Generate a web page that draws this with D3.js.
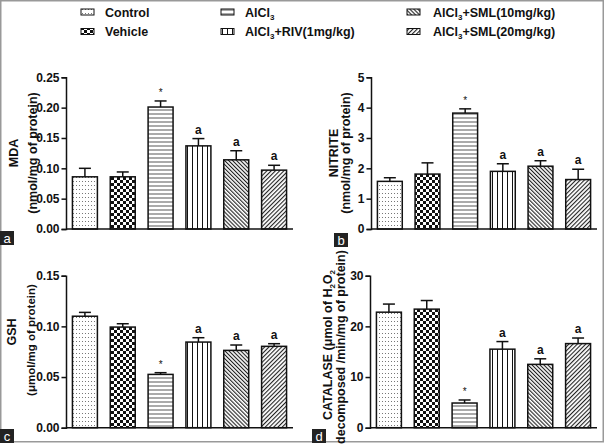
<!DOCTYPE html>
<html>
<head>
<meta charset="utf-8">
<script src="https://cdn.jsdelivr.net/npm/d3@7"></script>
<style>
  body { margin: 0; background: #fff; }
  svg { display: block; font-family: "Liberation Sans", Arial, sans-serif; }
</style>
</head>
<body>
<svg id="chart" width="605" height="444"></svg>
<script>
// data
const groups = ["Control", "Vehicle", "AlCl3", "AlCl3+RIV(1mg/kg)", "AlCl3+SML(10mg/kg)", "AlCl3+SML(20mg/kg)"];
const patterns = ["dots", "check", "hlines", "vlines", "diagR", "diagL"];
const marks = ["", "", "*", "a", "a", "a"];

const mdaMean = [0.086, 0.086, 0.201, 0.137, 0.114, 0.097];
const mdaErr = [0.014, 0.008, 0.010, 0.012, 0.015, 0.008];
const mdaTicks = [0, 0.05, 0.10, 0.15, 0.20, 0.25];

const nitMean = [1.57, 1.81, 3.82, 1.90, 2.07, 1.63];
const nitErr = [0.12, 0.37, 0.14, 0.25, 0.18, 0.34];
const nitTicks = [0, 1, 2, 3, 4, 5];

const gshMean = [0.110, 0.0993, 0.0526, 0.0845, 0.0763, 0.0803];
const gshErr = [0.0038, 0.0033, 0.0017, 0.0043, 0.0053, 0.0026];
const gshTicks = [0, 0.05, 0.10, 0.15];

const catMean = [22.8, 23.4, 4.87, 15.5, 12.5, 16.6];
const catErr = [1.6, 1.7, 0.6, 1.5, 1.1, 1.1];
const catTicks = [0, 10, 20, 30];

const svg = d3.select("#chart");
const defs = svg.append("defs");

// fill patterns
function pattern(id, w, h, draw, transform) {
  const p = defs.append("pattern")
    .attr("id", id)
    .attr("patternUnits", "userSpaceOnUse")
    .attr("width", w).attr("height", h);
  if (transform) p.attr("patternTransform", transform);
  p.append("rect").attr("width", w).attr("height", h).attr("fill", "#fff");
  draw(p);
}
pattern("dots", 3, 4, p => p.append("rect").attr("x", 1).attr("y", 1).attr("width", 1).attr("height", 1).attr("fill", "#777"));
pattern("check", 6, 6, p => {
  p.append("rect").attr("x", 0).attr("y", 0).attr("width", 3).attr("height", 3).attr("fill", "#111");
  p.append("rect").attr("x", 3).attr("y", 3).attr("width", 3).attr("height", 3).attr("fill", "#111");
});
pattern("hlines", 4, 4, p => p.append("rect").attr("x", 0).attr("y", 1.5).attr("width", 4).attr("height", 1).attr("fill", "#555"));
pattern("vlines", 5, 5, p => p.append("rect").attr("x", 2).attr("y", 0).attr("width", 1).attr("height", 5).attr("fill", "#111"));
pattern("diagR", 2.8, 2.8, p => p.append("rect").attr("x", 0).attr("y", 0).attr("width", 1.1).attr("height", 2.8).attr("fill", "#222"), "rotate(-45)");
pattern("diagL", 3, 3, p => p.append("rect").attr("x", 0).attr("y", 0).attr("width", 1.1).attr("height", 3).attr("fill", "#222"), "rotate(45)");

// outer frame
svg.append("rect")
  .attr("x", 0.75).attr("y", 0.75)
  .attr("width", 602.5).attr("height", 441)
  .attr("fill", "none")
  .attr("stroke", "#999")
  .attr("stroke-width", 1.5);

// group names with subscript 3 after AlCl
function writeLabel(sel, name) {
  if (name.startsWith("AlCl3")) {
    sel.append("tspan").text("AlCl");
    sel.append("tspan").attr("font-size", 8).attr("dy", 3).text("3");
    if (name.length > 5) sel.append("tspan").attr("dy", -3).text(name.slice(5));
  } else {
    sel.text(name);
  }
}

// legend
const legendCols = [[81, 105], [221, 245], [407, 433]];
const legendRows = [12, 31.5];
groups.forEach((g, i) => {
  const col = legendCols[Math.floor(i / 2)];
  const cy = legendRows[i % 2];
  svg.append("rect")
    .attr("x", col[0]).attr("y", cy - 3)
    .attr("width", 13).attr("height", 6)
    .attr("fill", `url(#${patterns[i]})`)
    .attr("stroke", "#111").attr("stroke-width", 1);
  const t = svg.append("text")
    .attr("x", col[1]).attr("y", cy + 4.5)
    .attr("font-size", 12.5).attr("font-weight", "bold")
    .attr("fill", "#111");
  writeLabel(t, groups[i]);
});

function drawPanel(cfg) {
  const g = svg.append("g");
  const x = d3.scaleBand()
    .domain(groups)
    .range([cfg.left, cfg.right])
    .paddingInner(0.34)
    .paddingOuter(0.17);
  const y = d3.scaleLinear()
    .domain([0, cfg.ticks[cfg.ticks.length - 1]])
    .range([cfg.bottom, cfg.top]);

  // bars
  g.selectAll("rect.bar")
    .data(groups)
    .join("rect")
    .attr("class", "bar")
    .attr("x", d => x(d))
    .attr("width", x.bandwidth())
    .attr("y", (d, i) => y(cfg.mean[i]))
    .attr("height", (d, i) => y(0) - y(cfg.mean[i]))
    .attr("fill", (d, i) => `url(#${patterns[i]})`)
    .attr("stroke", "#111")
    .attr("stroke-width", 1.5);

  // error bars (upper only)
  groups.forEach((d, i) => {
    const cx = x(d) + x.bandwidth() / 2;
    const top = y(cfg.mean[i] + cfg.err[i]);
    g.append("line")
      .attr("x1", cx).attr("x2", cx)
      .attr("y1", y(cfg.mean[i])).attr("y2", top)
      .attr("stroke", "#111").attr("stroke-width", 1.5);
    g.append("line")
      .attr("x1", cx - 6).attr("x2", cx + 6)
      .attr("y1", top).attr("y2", top)
      .attr("stroke", "#111").attr("stroke-width", 1.5);
    if (marks[i] === "*") {
      g.append("text")
        .attr("x", cx).attr("y", top - 5)
        .attr("text-anchor", "middle")
        .attr("font-size", 10)
        .attr("fill", "#111")
        .text("*");
    } else if (marks[i]) {
      g.append("text")
        .attr("x", cx).attr("y", top - 5)
        .attr("text-anchor", "middle")
        .attr("font-size", 12).attr("font-weight", "bold")
        .attr("fill", "#111")
        .text(marks[i]);
    }
  });

  // axes
  const yAxis = d3.axisLeft(y)
    .tickValues(cfg.ticks)
    .tickFormat(cfg.format)
    .tickSize(4.5)
    .tickPadding(2);
  const ya = g.append("g")
    .attr("transform", `translate(${cfg.left},0)`)
    .call(yAxis);
  ya.select(".domain").attr("stroke", "#111").attr("stroke-width", 1.5);
  ya.selectAll(".tick line").attr("stroke", "#111").attr("stroke-width", 1.5);
  ya.selectAll(".tick text")
    .attr("font-family", "Liberation Sans, Arial, sans-serif")
    .attr("font-size", 12).attr("font-weight", "bold").attr("fill", "#111");

  g.append("line")
    .attr("x1", cfg.left).attr("x2", cfg.right)
    .attr("y1", cfg.bottom).attr("y2", cfg.bottom)
    .attr("stroke", "#111").attr("stroke-width", 1.5);

  // rotated axis titles
  cfg.titles.forEach(tt => {
    const t = g.append("text")
      .attr("transform", `translate(${tt.x},${tt.y}) rotate(-90)`)
      .attr("text-anchor", "middle")
      .attr("font-size", tt.size).attr("font-weight", "bold")
      .attr("fill", "#111");
    tt.parts.forEach(p => {
      const s = t.append("tspan").text(p.text);
      if (p.sub) s.attr("font-size", 8).attr("dy", 3);
      if (p.up) s.attr("dy", -3);
    });
  });

  // panel letter
  g.append("rect")
    .attr("x", cfg.letter.x).attr("y", cfg.letter.y)
    .attr("width", 14).attr("height", 14)
    .attr("fill", "#222");
  g.append("text")
    .attr("x", cfg.letter.x + 7).attr("y", cfg.letter.y + 11.5)
    .attr("text-anchor", "middle")
    .attr("font-size", 13)
    .attr("fill", "#fff")
    .text(cfg.letter.text);
}

drawPanel({
  mean: mdaMean, err: mdaErr, ticks: mdaTicks, format: d3.format(".2f"),
  left: 66, right: 293, top: 77.3, bottom: 229,
  titles: [
    { x: 17.5, y: 153, size: 12.5, parts: [{ text: "MDA" }] },
    { x: 37, y: 153, size: 12.5, parts: [{ text: "(nmol/mg of protein)" }] }
  ],
  letter: { x: 0, y: 231, text: "a" }
});

drawPanel({
  mean: nitMean, err: nitErr, ticks: nitTicks, format: d3.format("d"),
  left: 371, right: 597, top: 77.3, bottom: 229,
  titles: [
    { x: 337.5, y: 153, size: 12.5, parts: [{ text: "NITRITE" }] },
    { x: 349.5, y: 153, size: 12.5, parts: [{ text: "(nmol/mg of protein)" }] }
  ],
  letter: { x: 334, y: 233, text: "b" }
});

drawPanel({
  mean: gshMean, err: gshErr, ticks: gshTicks, format: d3.format(".2f"),
  left: 66, right: 293, top: 275.7, bottom: 427.7,
  titles: [
    { x: 15.5, y: 332, size: 12.5, parts: [{ text: "GSH" }] },
    { x: 34.5, y: 340, size: 11.5, parts: [{ text: "(\u03bcmol/mg of protein)" }] }
  ],
  letter: { x: 0, y: 429, text: "c" }
});

drawPanel({
  mean: catMean, err: catErr, ticks: catTicks, format: d3.format("d"),
  left: 370, right: 597, top: 275.7, bottom: 427.7,
  titles: [
    { x: 332, y: 345, size: 12.5, parts: [
      { text: "CATALASE (\u03bcmol of H" }, { text: "2", sub: true },
      { text: "O", up: true }, { text: "2", sub: true }
    ] },
    { x: 345, y: 347, size: 12.5, parts: [{ text: "decomposed /min/mg of protein)" }] }
  ],
  letter: { x: 312, y: 429, text: "d" }
});
</script>
</body>
</html>
